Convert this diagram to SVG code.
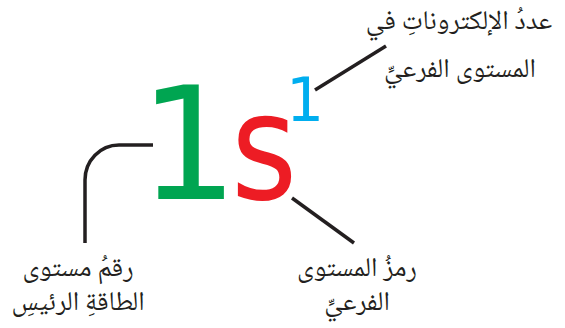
<svg xmlns="http://www.w3.org/2000/svg" width="565" height="328" viewBox="0 0 565 328">
<style>
.ar{font-family:"Noto Naskh Arabic","Noto Sans Arabic","DejaVu Sans",sans-serif;font-size:27px;fill:#231f20;text-anchor:middle;direction:rtl}
.big{font-family:"DejaVu Sans",sans-serif}
.ln{fill:none;stroke:#231f20;stroke-width:3.5}
</style>
<rect width="565" height="328" fill="#fff"/>
<g id="formula">
<text class="big" x="139" y="199" font-size="156" fill="#00a551">1</text>
<text class="big" x="0" y="0" font-size="148" fill="#ed1c24" transform="translate(231,199) scale(0.86,1)">s</text>
<text class="big" x="286" y="121" font-size="60" fill="#00aeef">1</text>
</g>
<g id="connectors">
<path class="ln" d="M153,145 H119 A34,35 0 0 0 85,180 V243"/>
<line class="ln" x1="315" y1="90" x2="386" y2="46"/>
<line class="ln" x1="292" y1="198" x2="354" y2="243"/>
</g>
<g id="label-electrons">
<text class="ar" x="459" y="29">عددُ الإلكتروناتِ في</text>
<text class="ar" x="460" y="77">المستوى الفرعيِّ</text>
</g>
<g id="label-energy-level">
<text class="ar" x="78" y="276">رقمُ مستوى</text>
<text class="ar" x="78" y="310">الطاقةِ الرئيسِ</text>
</g>
<g id="label-sublevel">
<text class="ar" x="357" y="276">رمزُ المستوى</text>
<text class="ar" x="357" y="310">الفرعيِّ</text>
</g>
</svg>
